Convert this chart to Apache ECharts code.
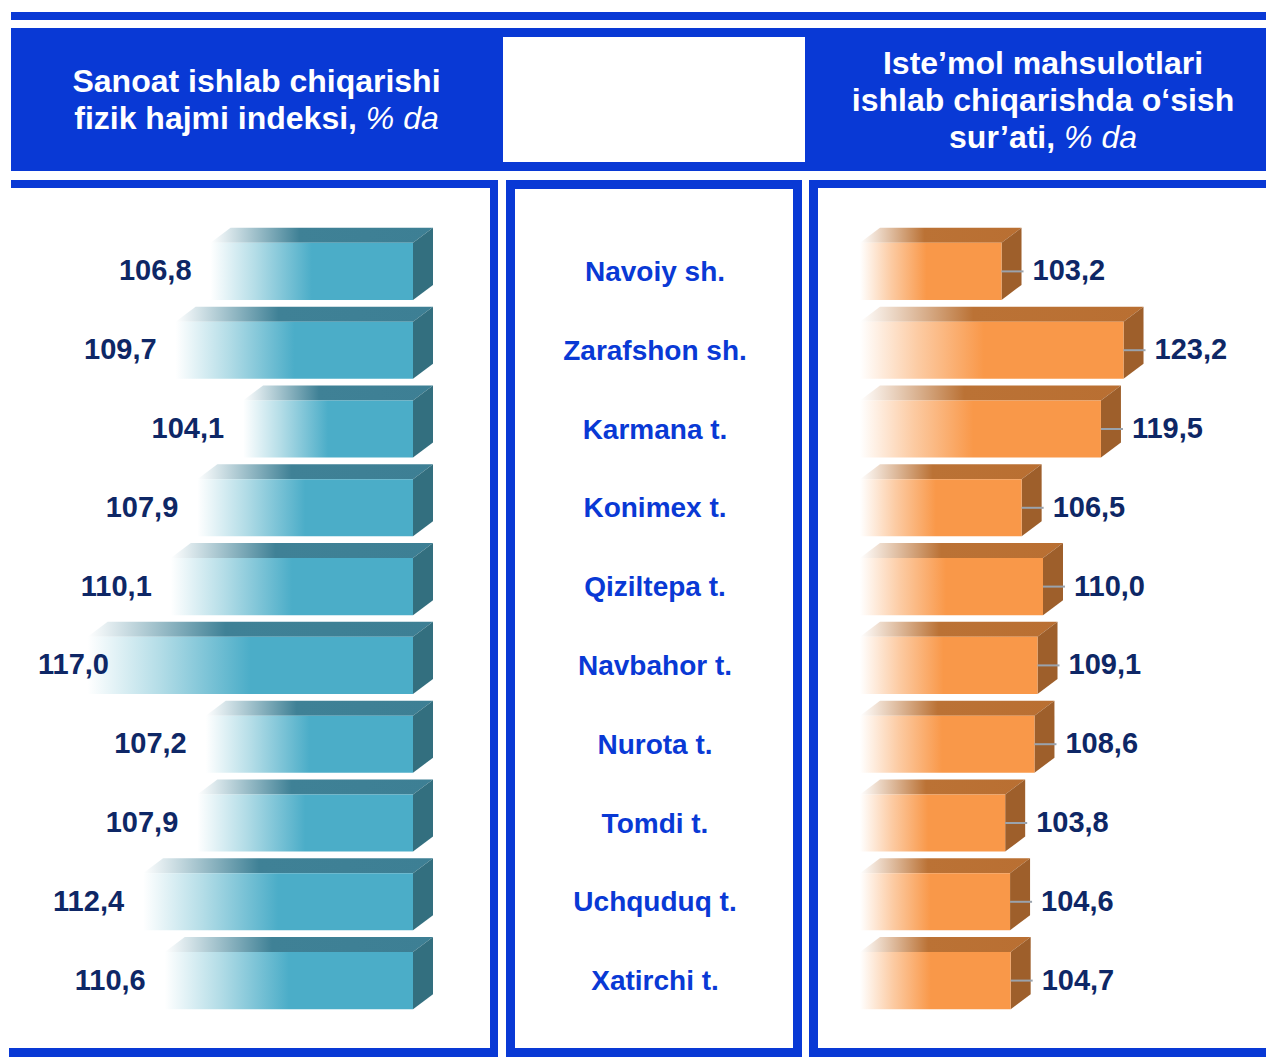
<!DOCTYPE html>
<html>
<head>
<meta charset="utf-8">
<script src="https://cdn.jsdelivr.net/npm/echarts@6/dist/echarts.min.js"></script>
<style>
  html, body { margin: 0; padding: 0; background: #ffffff; }
  #chart { width: 1266px; height: 1062px; }
</style>
</head>
<body>
<div id="chart"></div>
<script>
// Districts of Navoiy region and the two indicators shown for each
const districts = ['Navoiy sh.', 'Zarafshon sh.', 'Karmana t.', 'Konimex t.', 'Qiziltepa t.',
                   'Navbahor t.', 'Nurota t.', 'Tomdi t.', 'Uchquduq t.', 'Xatirchi t.'];
const industryIndex = [106.8, 109.7, 104.1, 107.9, 110.1, 117.0, 107.2, 107.9, 112.4, 110.6];
const consumerGrowth = [103.2, 123.2, 119.5, 106.5, 110.0, 109.1, 108.6, 103.8, 104.6, 104.7];
const leftTitle = ['Sanoat ishlab chiqarishi', 'fizik hajmi indeksi, '];
const rightTitle = ['Iste\u2019mol mahsulotlari', 'ishlab chiqarishda o\u2018sish', 'sur\u2019ati, '];
const unitText = '% da';

const BLUE = '#0939d5';
const NAVY = '#0e2766';
const FONT = '"Liberation Sans", Arial, Helvetica, sans-serif';
const LABEL_SIZE = 29;

const LEFT_MIN = 90, LEFT_MAX = 120;
const RIGHT_MIN = 80, RIGHT_MAX = 130;

const measureCtx = document.createElement('canvas').getContext('2d');
function textWidth(str) {
  measureCtx.font = 'bold ' + LABEL_SIZE + 'px ' + FONT;
  return measureCtx.measureText(str).width;
}
function fmt(v) { return v.toFixed(1).replace('.', ','); }

const lg = echarts.graphic.LinearGradient;
const palettes = {
  teal: {
    front: () => new lg(0, 0, 1, 0, [
      { offset: 0, color: '#ffffff' }, { offset: 0.22, color: '#b4dde7' },
      { offset: 0.5, color: '#4badc8' }, { offset: 1, color: '#4badc8' }]),
    top: () => new lg(0, 0, 1, 0, [
      { offset: 0, color: '#ffffff' }, { offset: 0.4, color: '#3f8196' }, { offset: 1, color: '#3d7f94' }]),
    side: '#336f7f'
  },
  orange: {
    front: () => new lg(0, 0, 1, 0, [
      { offset: 0, color: '#ffffff' }, { offset: 0.22, color: '#fccba3' },
      { offset: 0.47, color: '#f99849' }, { offset: 1, color: '#f99849' }]),
    top: () => new lg(0, 0, 1, 0, [
      { offset: 0, color: '#ffffff' }, { offset: 0.4, color: '#bb7235' }, { offset: 1, color: '#b96f32' }]),
    side: '#9e5f2b'
  }
};

// Box-shaped bar: front face, top face and side face, plus the value label
function boxBar(pal, minVal, side) {
  return function (params, api) {
    const v = api.value(0), idx = api.value(1);
    const end = api.coord([v, idx]);
    const base = api.coord([minVal, idx]);
    const band = api.size([0, 1])[1];
    const h = band * 0.724;
    const dx = 20, dy = -15;
    const x0 = Math.min(end[0], base[0]), x1 = Math.max(end[0], base[0]);
    const cy = end[1], y0 = cy - h / 2, y1 = cy + h / 2;
    const label = fmt(v);
    const children = [
      { type: 'polygon', shape: { points: [[x0, y0], [x1, y0], [x1 + dx, y0 + dy], [x0 + dx, y0 + dy]] },
        style: { fill: pal.top() } },
      { type: 'polygon', shape: { points: [[x1, y0], [x1 + dx, y0 + dy], [x1 + dx, y1 + dy], [x1, y1]] },
        style: { fill: pal.side } },
      { type: 'rect', shape: { x: x0, y: y0, width: x1 - x0, height: h },
        style: { fill: pal.front() } }
    ];
    if (side === 'right') {
      children.push({ type: 'line', shape: { x1: x1, y1: cy, x2: x1 + 22, y2: cy },
        style: { stroke: '#9aa3ad', lineWidth: 2 } });
      children.push({ type: 'text', style: { x: x1 + 31, y: cy - 1, text: label, fill: NAVY,
        fontSize: LABEL_SIZE, fontWeight: 'bold', fontFamily: FONT, align: 'left', verticalAlign: 'middle' } });
    } else {
      let tx = x0 - 19, align = 'right';
      if (tx - textWidth(label) < 36) { tx = 38; align = 'left'; }
      children.push({ type: 'text', style: { x: tx, y: cy - 1, text: label, fill: NAVY,
        fontSize: LABEL_SIZE, fontWeight: 'bold', fontFamily: FONT, align: align, verticalAlign: 'middle' } });
    }
    return { type: 'group', children: children };
  };
}

function headerText(lines, cx) {
  const rich = lines.map((l, i) => (i === lines.length - 1)
    ? '{b|' + l + '}{i|' + unitText + '}' : '{b|' + l + '}').join('\n');
  return {
    type: 'text', x: cx, y: 99.5, z: 10,
    style: {
      x: 0, y: 0, text: rich, align: 'center', verticalAlign: 'middle', fill: '#ffffff',
      rich: {
        b: { fontSize: 32, fontWeight: 'bold', fontFamily: FONT, fill: '#ffffff', lineHeight: 37 },
        i: { fontSize: 32, fontStyle: 'italic', fontWeight: 'normal', fontFamily: FONT, fill: '#ffffff', lineHeight: 37 }
      }
    }
  };
}

const chart = echarts.init(document.getElementById('chart'), null, { renderer: 'svg', width: 1266, height: 1062 });

const rect = (x, y, w, h) => ({ type: 'rect', shape: { x: x, y: y, width: w, height: h }, style: { fill: BLUE }, z: 1 });

const GRID_TOP = 232, GRID_H = 788;

chart.setOption({
  animation: false,
  backgroundColor: '#ffffff',
  graphic: [
    rect(11, 12, 1255, 8),
    rect(11, 28, 1255, 143),
    { type: 'rect', shape: { x: 503, y: 37, width: 302, height: 125 }, style: { fill: '#ffffff' }, z: 2 },
    // left panel frame
    rect(11, 180, 487, 8), rect(490, 180, 8, 877), rect(9, 1048, 489, 9),
    // middle panel frame
    rect(506, 180, 296, 9), rect(506, 180, 9, 877), rect(793, 180, 9, 877), rect(506, 1048, 296, 9),
    // right panel frame
    rect(809, 180, 457, 8), rect(809, 180, 9, 877), rect(809, 1048, 457, 9),
    headerText(leftTitle, 256.5),
    headerText(rightTitle, 1043)
  ],
  grid: [
    { left: 413 - (LEFT_MAX - LEFT_MIN) * 12.05, width: (LEFT_MAX - LEFT_MIN) * 12.05, top: GRID_TOP, height: GRID_H },
    { left: 860, width: (RIGHT_MAX - RIGHT_MIN) * 6.1, top: GRID_TOP, height: GRID_H },
    { left: 655, width: 1, top: GRID_TOP, height: GRID_H }
  ],
  xAxis: [
    { gridIndex: 0, type: 'value', min: LEFT_MIN, max: LEFT_MAX, inverse: true, show: false },
    { gridIndex: 1, type: 'value', min: RIGHT_MIN, max: RIGHT_MAX, show: false },
    { gridIndex: 2, type: 'value', min: 0, max: 1, show: false }
  ],
  yAxis: [
    { gridIndex: 0, type: 'category', data: districts, inverse: true, show: false },
    { gridIndex: 1, type: 'category', data: districts, inverse: true, show: false },
    { gridIndex: 2, type: 'category', data: districts, inverse: true,
      axisLine: { show: false }, axisTick: { show: false }, splitLine: { show: false },
      axisLabel: { interval: 0, margin: 0, align: 'center', verticalAlign: 'middle', color: BLUE,
        fontSize: 28, fontWeight: 'bold', fontFamily: FONT, padding: [0, 0, 8, 0] } }
  ],
  series: [
    { type: 'custom', xAxisIndex: 0, yAxisIndex: 0, renderItem: boxBar(palettes.teal, LEFT_MIN, 'left'),
      encode: { x: 0, y: 1 }, data: industryIndex.map((v, i) => [v, i]), z: 3 },
    { type: 'custom', xAxisIndex: 1, yAxisIndex: 1, renderItem: boxBar(palettes.orange, RIGHT_MIN, 'right'),
      encode: { x: 0, y: 1 }, data: consumerGrowth.map((v, i) => [v, i]), z: 3 }
  ]
});
</script>
</body>
</html>
